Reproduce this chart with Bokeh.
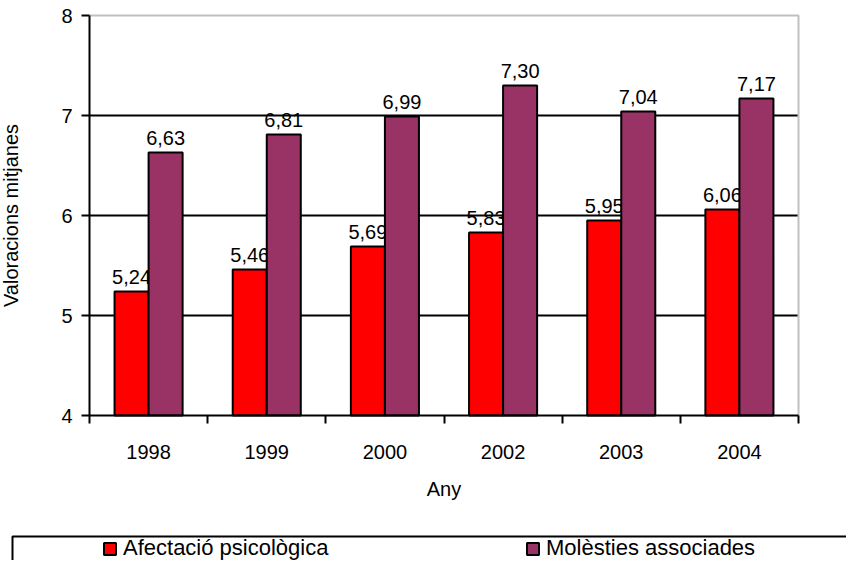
from bokeh.plotting import figure
from bokeh.models import Range1d, FixedTicker, ColumnDataSource, Legend, LegendItem, BoxAnnotation
from bokeh.embed import file_html
from bokeh.resources import INLINE
from bokeh.transform import dodge

# ---- data ----
years = ["1998", "1999", "2000", "2002", "2003", "2004"]
afectacio = [5.24, 5.46, 5.69, 5.83, 5.95, 6.06]
molesties = [6.63, 6.81, 6.99, 7.30, 7.04, 7.17]
series_names = ["Afectació psicològica", "Molèsties associades"]
series_colors = ["#FF0000", "#993366"]
y_ticks = [4, 5, 6, 7, 8]
grid_ticks = [5, 6, 7]
x_title = "Any"
y_title = "Valoracions mitjanes"

FONT = "Liberation Sans"
FS = "20px"
W = 846
H = 560
BAR_W = 0.288

# pixel geometry of the plotting area inside the canvas
PLOT_L, PLOT_R, PLOT_T, PLOT_B = 89, 798, 15, 415


def fmt(v):
    return f"{v:.2f}".replace(".", ",")


n = len(years)
y0, y1 = y_ticks[0], y_ticks[-1]
xs = n / (PLOT_R - PLOT_L)          # data units per pixel
ys = (y1 - y0) / (PLOT_B - PLOT_T)
x_range = Range1d(-PLOT_L * xs, n + (W - PLOT_R) * xs)
y_range = Range1d(y0 - (H - PLOT_B) * ys, y1 + PLOT_T * ys)

centers = [i + 0.5 for i in range(n)]
src = ColumnDataSource(dict(
    x=centers, a=afectacio, m=molesties,
    a_lbl=[fmt(v) for v in afectacio], m_lbl=[fmt(v) for v in molesties],
))
grid_src = ColumnDataSource(dict(y=grid_ticks))

p = figure(width=W, height=H, x_range=x_range, y_range=y_range,
           output_backend="svg", toolbar_location=None, min_border=0)
p.background_fill_color = "white"
p.border_fill_color = "white"
p.outline_line_color = None
p.grid.visible = False

# horizontal gridlines limited to the plot area
p.segment(x0=0, x1=n, y0="y", y1="y", source=grid_src, line_color="black", line_width=2)
# grey frame on top and right of plot area
p.line(x=[0, n, n], y=[y1, y1, y0], line_color="#C0C0C0", line_width=2)

renderers = []
for fld, lbl, col, off in (("a", "a_lbl", series_colors[0], -BAR_W / 2),
                           ("m", "m_lbl", series_colors[1], BAR_W / 2)):
    r = p.vbar(x=dodge("x", off), top=fld, bottom=y0, width=BAR_W, source=src,
               fill_color=col, line_color="black", line_width=2)
    renderers.append(r)
    p.text(x=dodge("x", off), y=fld, text=lbl, source=src, text_align="center",
           text_baseline="alphabetic", y_offset=-15, text_font={"value": FONT},
           text_font_size=FS, text_color="black")

# x axis: labels at category centers, ticks at boundaries (minor ticks)
xa = p.xaxis[0]
xa.fixed_location = y0
xa.bounds = (0, n)
xa.ticker = FixedTicker(ticks=centers, minor_ticks=list(range(n + 1)))
xa.major_label_overrides = {c: y for c, y in zip(centers, years)}
xa.major_tick_line_color = None
xa.major_tick_out = 0
xa.major_tick_in = 0
xa.minor_tick_out = 8
xa.minor_tick_in = 0
xa.minor_tick_line_color = "black"
xa.minor_tick_line_width = 2
xa.axis_line_color = "black"
xa.axis_line_width = 2
xa.major_label_standoff = 21
xa.major_label_text_font = FONT
xa.major_label_text_font_size = FS
xa.major_label_text_color = "black"
xa.axis_label = x_title
xa.axis_label_text_font = FONT
xa.axis_label_text_font_size = FS
xa.axis_label_text_font_style = "normal"
xa.axis_label_text_color = "black"
xa.axis_label_standoff = 16

ya = p.yaxis[0]
ya.fixed_location = 0
ya.bounds = (y0, y1)
ya.ticker = FixedTicker(ticks=y_ticks)
ya.major_tick_out = 8
ya.major_tick_in = 0
ya.major_tick_line_color = "black"
ya.major_tick_line_width = 2
ya.minor_tick_line_color = None
ya.axis_line_color = "black"
ya.axis_line_width = 2
ya.major_label_standoff = 9
ya.major_label_text_font = FONT
ya.major_label_text_font_size = FS
ya.major_label_text_color = "black"
ya.axis_label = y_title
ya.axis_label_text_font = FONT
ya.axis_label_text_font_size = FS
ya.axis_label_text_font_style = "normal"
ya.axis_label_text_color = "black"
ya.axis_label_standoff = 36

# ---- legend box (extends past the right/bottom edges, as in the reference) ----
box = BoxAnnotation(left=12, right=W + 20, top=536, bottom=H + 20,
                    left_units="canvas", right_units="canvas", top_units="canvas", bottom_units="canvas",
                    fill_alpha=0, line_color="black", line_width=2, line_alpha=1)
p.add_layout(box)

items = [LegendItem(label=name, renderers=[r]) for name, r in zip(series_names, renderers)]
leg = Legend(items=items, orientation="horizontal", location=(102, -1), padding=0, margin=0,
             spacing=0, glyph_width=15, glyph_height=15, label_standoff=6, label_width=402,
             border_line_alpha=0, background_fill_alpha=0,
             label_text_font=FONT, label_text_font_size="22px", label_text_color="black")
p.add_layout(leg, "center")

open("out.html", "w").write(file_html(p, INLINE))
